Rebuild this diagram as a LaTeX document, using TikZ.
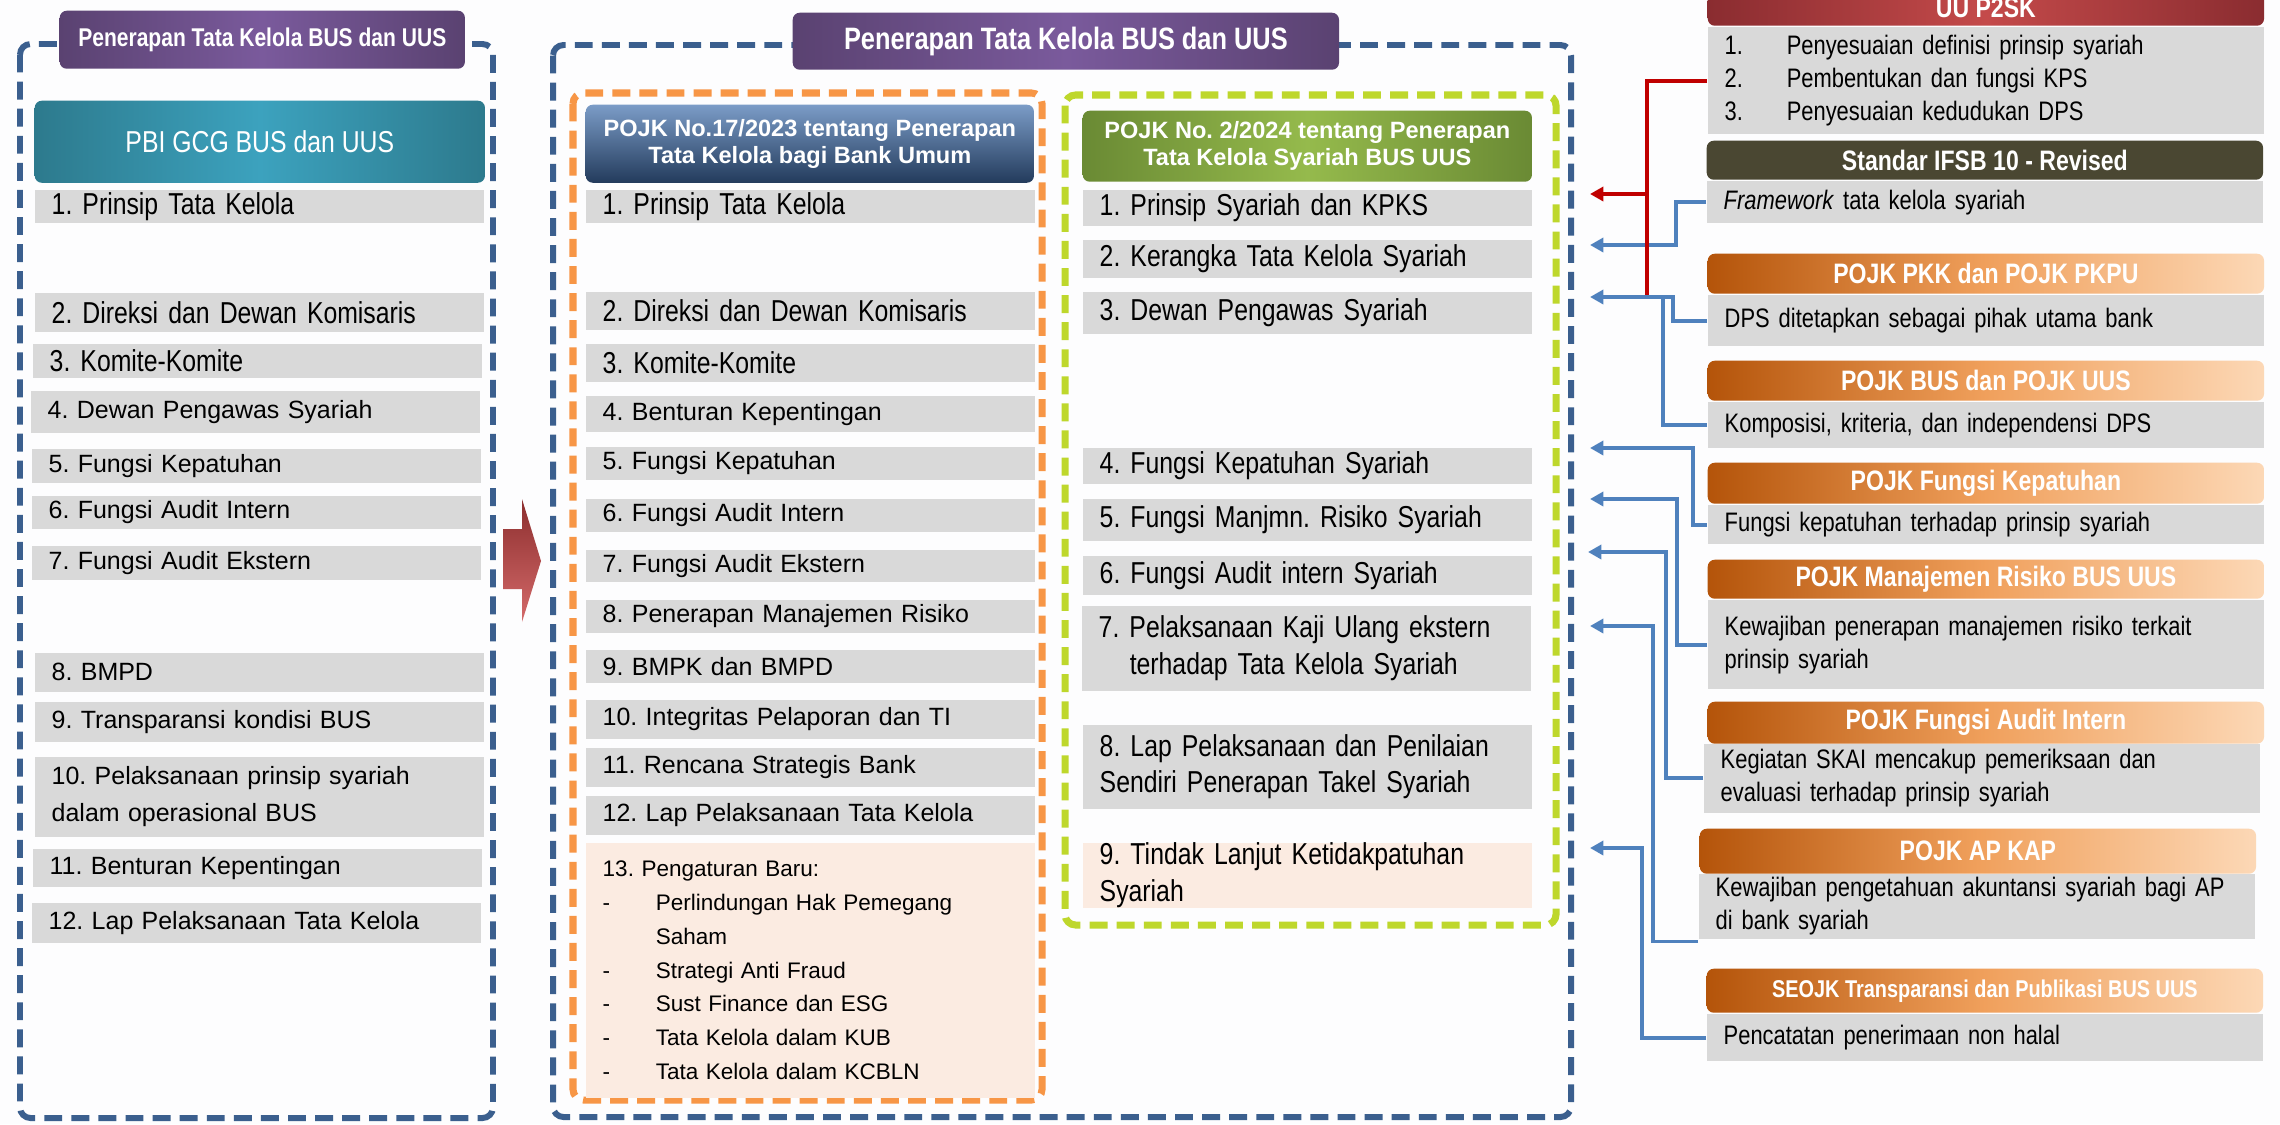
\documentclass[tikz,border=0pt]{standalone}
\usepackage{fontspec}
\setmainfont{Liberation Sans}
\newfontfamily\narrowsans{Liberation Sans}[FakeStretch=0.82]
\usetikzlibrary{arrows.meta}
\frenchspacing

\begin{document}
\begin{tikzpicture}[
    x=0.01cm, y=-0.01cm,
    text=black,
    >={Triangle[length=3.8pt, width=4pt]},
    item/.style={fill=itemgray, anchor=north west, inner xsep=0.17cm, inner ysep=0pt, align=left},
    peach/.style={item, fill=itempeach},
    colw/.style={text width=4.15cm},
    reg/.style={font=\fontsize{7.1}{10.5}\selectfont},
    nar/.style={font=\narrowsans\fontsize{8.6}{10.4}\selectfont},
    header/.style={anchor=north west, inner sep=0pt, align=center, text=white, rounded corners=2pt},
    ttl/.style={header, left color=ttlpurple, right color=ttlpurple, middle color=ttlpurplelight},
    rhead/.style={header, minimum width=5.56cm, font=\narrowsans\bfseries\fontsize{8}{9}\selectfont},
    orangehead/.style={rhead, left color=ordark, right color=orlight, middle color=ormid},
    rbody/.style={item, text width=5.22cm, font=\narrowsans\fontsize{7.6}{9.4}\selectfont},
    dashbox/.style={rounded corners=3pt, dash pattern=on 5.1pt off 2.6pt},
    arrowline/.style={draw=lineblue, line width=1.1pt},
    redline/.style={draw=linered, line width=1.1pt}
]

% Define custom colors to match the image closely
\definecolor{bgwhite}{HTML}{FDFDFE}
\definecolor{itemgray}{HTML}{D9D9D9}
\definecolor{itempeach}{HTML}{FBEBE1}
\definecolor{boxblue}{HTML}{3B5F8E}
\definecolor{boxorange}{HTML}{F79646}
\definecolor{boxgreen}{HTML}{BED72C}
\definecolor{ttlpurple}{HTML}{5A4271}
\definecolor{ttlpurplelight}{HTML}{7A5A9C}
\definecolor{tealdark}{HTML}{2D7A8D}
\definecolor{teallight}{HTML}{3CA2BE}
\definecolor{navylight}{HTML}{7B9CC7}
\definecolor{navydark}{HTML}{233B5C}
\definecolor{olivedark}{HTML}{6A8A34}
\definecolor{olivelight}{HTML}{95BA4C}
\definecolor{p2skdark}{HTML}{8A2C30}
\definecolor{p2sklight}{HTML}{C44A4A}
\definecolor{ifsbolive}{HTML}{4A4732}
\definecolor{ordark}{HTML}{B4540A}
\definecolor{ormid}{HTML}{F0A05C}
\definecolor{orlight}{HTML}{FCD8B6}
\definecolor{lineblue}{HTML}{4F81BD}
\definecolor{linered}{HTML}{C00000}
\definecolor{arrowdark}{HTML}{8C2E2E}
\definecolor{arrowlight}{HTML}{D46A6A}

\useasboundingbox (0,0) rectangle (2280,1124);
\fill[bgwhite] (0,0) rectangle (2280,1124);

% ==================== FRAMES ====================
\draw[dashbox, draw=boxblue, line width=1.7pt] (20,44) rectangle (493,1118);
\draw[dashbox, draw=boxblue, line width=1.7pt] (553,45) rectangle (1571,1117);
\draw[dashbox, draw=boxorange, line width=2pt] (573,93) rectangle (1042,1100);
\draw[dashbox, draw=boxgreen, line width=2pt] (1065,95) rectangle (1556,925);

% Titles
\node[ttl, minimum width=4.05cm, minimum height=0.58cm, font=\narrowsans\bfseries\fontsize{7.3}{9}\selectfont] (ltitle) at (59,10) {Penerapan Tata Kelola BUS dan UUS};
\node[ttl, minimum width=5.46cm, minimum height=0.57cm, font=\narrowsans\bfseries\fontsize{8.8}{10}\selectfont] (mtitle) at (792,12) {Penerapan Tata Kelola BUS dan UUS};

% ==================== LEFT PANEL: PBI ====================
\node[header, minimum width=4.5cm, minimum height=0.82cm, left color=tealdark, right color=tealdark, middle color=teallight, font=\narrowsans\fontsize{8.6}{10}\selectfont] (lhead) at (34,100) {PBI GCG BUS dan UUS};

\node[item, colw, nar, minimum height=0.33cm] (l1) at (34,189) {1. Prinsip Tata Kelola};
\node[item, colw, nar, minimum height=0.39cm] (l2) at (34,292) {2. Direksi dan Dewan Komisaris};
\node[item, colw, nar, minimum height=0.34cm] (l3) at (32,343) {3. Komite-Komite};
\node[item, colw, reg, minimum height=0.42cm] (l4) at (30,390) {4. Dewan Pengawas Syariah};
\node[item, colw, reg, minimum height=0.34cm] (l5) at (31,448) {5. Fungsi Kepatuhan};
\node[item, colw, reg, minimum height=0.33cm] (l6) at (31,495) {6. Fungsi Audit Intern};
\node[item, colw, reg, minimum height=0.34cm] (l7) at (31,545) {7. Fungsi Audit Ekstern};
\node[item, colw, reg, minimum height=0.39cm] (l8) at (34,652) {8. BMPD};
\node[item, colw, reg, minimum height=0.40cm] (l9) at (34,701) {9. Transparansi kondisi BUS};
\node[item, colw, reg, minimum height=0.80cm] (l10) at (34,756) {10. Pelaksanaan prinsip syariah\\dalam operasional BUS};
\node[item, colw, reg, minimum height=0.38cm] (l11) at (32,848) {11. Benturan Kepentingan};
\node[item, colw, reg, minimum height=0.40cm] (l12) at (31,902) {12. Lap Pelaksanaan Tata Kelola};

% Block arrow
\shade[top color=arrowdark, bottom color=arrowlight] (503,529) -- (522,529) -- (522,499) -- (541,561) -- (522,622) -- (522,589) -- (503,589) -- cycle;

% ==================== MIDDLE PANEL: POJK 17/2023 ====================
\node[header, minimum width=4.48cm, minimum height=0.78cm, top color=navylight, bottom color=navydark, font=\bfseries\fontsize{6.7}{7.7}\selectfont] (mhead) at (585,104) {POJK No.17/2023 tentang Penerapan\\Tata Kelola bagi Bank Umum};

\node[item, colw, nar, minimum height=0.33cm] (m1) at (585,189) {1. Prinsip Tata Kelola};
\node[item, colw, nar, minimum height=0.38cm] (m2) at (585,291) {2. Direksi dan Dewan Komisaris};
\node[item, colw, nar, minimum height=0.38cm] (m3) at (585,343) {3. Komite-Komite};
\node[item, colw, reg, minimum height=0.36cm] (m4) at (585,395) {4. Benturan Kepentingan};
\node[item, colw, reg, minimum height=0.33cm] (m5) at (585,446) {5. Fungsi Kepatuhan};
\node[item, colw, reg, minimum height=0.33cm] (m6) at (585,498) {6. Fungsi Audit Intern};
\node[item, colw, reg, minimum height=0.32cm] (m7) at (585,549) {7. Fungsi Audit Ekstern};
\node[item, colw, reg, minimum height=0.33cm] (m8) at (585,599) {8. Penerapan Manajemen Risiko};
\node[item, colw, reg, minimum height=0.33cm] (m9) at (585,649) {9. BMPK dan BMPD};
\node[item, colw, reg, minimum height=0.39cm] (m10) at (585,699) {10. Integritas Pelaporan dan TI};
\node[item, colw, reg, minimum height=0.39cm] (m11) at (585,747) {11. Rencana Strategis Bank};
\node[item, colw, reg, minimum height=0.39cm] (m12) at (585,795) {12. Lap Pelaksanaan Tata Kelola};
\node[peach, colw, font=\fontsize{6.4}{9.6}\selectfont, minimum height=2.55cm] (m13) at (585,842) {13. Pengaturan Baru:\\
    \makebox[0.53cm][l]{-}Perlindungan Hak Pemegang\\
    \hspace*{0.53cm}Saham\\
    \makebox[0.53cm][l]{-}Strategi Anti Fraud\\
    \makebox[0.53cm][l]{-}Sust Finance dan ESG\\
    \makebox[0.53cm][l]{-}Tata Kelola dalam KUB\\
    \makebox[0.53cm][l]{-}Tata Kelola dalam KCBLN};

% ==================== MIDDLE PANEL: POJK 2/2024 ====================
\node[header, minimum width=4.49cm, minimum height=0.71cm, left color=olivedark, right color=olivedark, middle color=olivelight, font=\bfseries\fontsize{6.7}{7.7}\selectfont] (ghead) at (1082,110) {POJK No. 2/2024 tentang Penerapan\\Tata Kelola Syariah BUS UUS};

\node[item, colw, nar, minimum height=0.36cm] (g1) at (1082,189) {1. Prinsip Syariah dan KPKS};
\node[item, colw, nar, minimum height=0.38cm] (g2) at (1082,239) {2. Kerangka Tata Kelola Syariah};
\node[item, colw, nar, minimum height=0.42cm] (g3) at (1082,291) {3. Dewan Pengawas Syariah};
\node[item, colw, nar, minimum height=0.36cm] (g4) at (1082,447) {4. Fungsi Kepatuhan Syariah};
\node[item, colw, nar, minimum height=0.42cm] (g5) at (1082,498) {5. Fungsi Manjmn. Risiko Syariah};
\node[item, colw, nar, minimum height=0.39cm] (g6) at (1082,555) {6. Fungsi Audit intern Syariah};
\node[item, colw, nar, minimum height=0.85cm] (g7) at (1081,605) {7. Pelaksanaan Kaji Ulang ekstern\\\hspace*{0.31cm}terhadap Tata Kelola Syariah};
\node[item, colw, nar, minimum height=0.84cm] (g8) at (1082,724) {8. Lap Pelaksanaan dan Penilaian\\Sendiri Penerapan Takel Syariah};
\node[peach, colw, nar, minimum height=0.65cm] (g9) at (1082,842) {9. Tindak Lanjut Ketidakpatuhan\\Syariah};

% ==================== RIGHT PANEL: REGULATIONS ====================
\node[rhead, minimum height=0.36cm, left color=p2skdark, right color=p2skdark, middle color=p2sklight] (p2skhead) at (1707,-11) {UU P2SK};
\node[rbody, minimum height=1.07cm] (p2skbody) at (p2skhead.south west) {\makebox[0.62cm][l]{1.}Penyesuaian definisi prinsip syariah\\
    \makebox[0.62cm][l]{2.}Pembentukan dan fungsi KPS\\
    \makebox[0.62cm][l]{3.}Penyesuaian kedudukan DPS};

\node[rhead, minimum height=0.39cm, fill=ifsbolive] (ifsbhead) at (1706,140) {Standar IFSB 10 - Revised};
\node[rbody, minimum height=0.42cm] (ifsbbody) at (ifsbhead.south west) {\textit{Framework} tata kelola syariah};

\node[orangehead, minimum height=0.40cm] (pkkhead) at (1707,253) {POJK PKK dan POJK PKPU};
\node[rbody, minimum height=0.51cm] (pkkbody) at (pkkhead.south west) {DPS ditetapkan sebagai pihak utama bank};

\node[orangehead, minimum height=0.40cm] (bushead) at (1707,360) {POJK BUS dan POJK UUS};
\node[rbody, minimum height=0.46cm] (busbody) at (bushead.south west) {Komposisi, kriteria, dan independensi DPS};

\node[orangehead, minimum height=0.41cm] (kephead) at (1707,462) {POJK Fungsi Kepatuhan};
\node[rbody, minimum height=0.39cm] (kepbody) at (kephead.south west) {Fungsi kepatuhan terhadap prinsip syariah};

\node[orangehead, minimum height=0.39cm] (mrhead) at (1707,559) {POJK Manajemen Risiko BUS UUS};
\node[rbody, minimum height=0.89cm] (mrbody) at (mrhead.south west) {Kewajiban penerapan manajemen risiko terkait\\prinsip syariah};

\node[orangehead, minimum height=0.42cm] (aihead) at (1707,701) {POJK Fungsi Audit Intern};
\node[rbody, minimum height=0.69cm] (aibody) at (1703,743) {Kegiatan SKAI mencakup pemeriksaan dan\\evaluasi terhadap prinsip syariah};

\node[orangehead, minimum height=0.45cm] (aphead) at (1699,828) {POJK AP KAP};
\node[rbody, minimum height=0.65cm] (apbody) at (1698,873) {Kewajiban pengetahuan akuntansi syariah bagi AP\\di bank syariah};

\node[orangehead, minimum height=0.44cm, font=\narrowsans\bfseries\fontsize{6.9}{8}\selectfont] (seohead) at (1706,968) {SEOJK Transparansi dan Publikasi BUS UUS};
\node[rbody, minimum height=0.47cm] (seobody) at (seohead.south west) {Pencatatan penerimaan non halal};

% ==================== CONNECTORS ====================
% arrow tips next to the POJK 2/2024 items
\coordinate (a1) at (1590,194);
\coordinate (a2) at (1590,245);
\coordinate (a3) at (1590,297);
\coordinate (a4) at (1590,448);
\coordinate (a5) at (1590,499);
\coordinate (a6) at (1588,552);
\coordinate (a7) at (1590,626);
\coordinate (a9) at (1590,848);
\coordinate (rj) at (1647,194);
\coordinate (rend) at (1647,297);
\coordinate (j3) at (1663,297);

\draw[arrowline, ->] (ifsbbody.west) -- ++(-30,0) |- (a2);

% UU P2SK
\draw[redline] (p2skbody.west) -| (rend);
\draw[redline, ->] (rj) -- (a1);

\draw[arrowline] (busbody.west) -| (j3);
\draw[arrowline, ->] (pkkbody.west) -- ++(-34,0) |- (a3);
\draw[arrowline, ->] (kepbody.west) -- ++(-14,0) |- (a4);
\draw[arrowline, ->] (mrbody.west) -- ++(-30,0) |- (a5);
\draw[arrowline, ->] (aibody.west) -- ++(-37,0) |- (a6);
\draw[arrowline, ->] ([yshift=-0.02cm]apbody.south west) -- ++(-45,0) |- (a7);
\draw[arrowline, ->] (seobody.west) -- ++(-64,0) |- (a9);

\end{tikzpicture}
\end{document}
